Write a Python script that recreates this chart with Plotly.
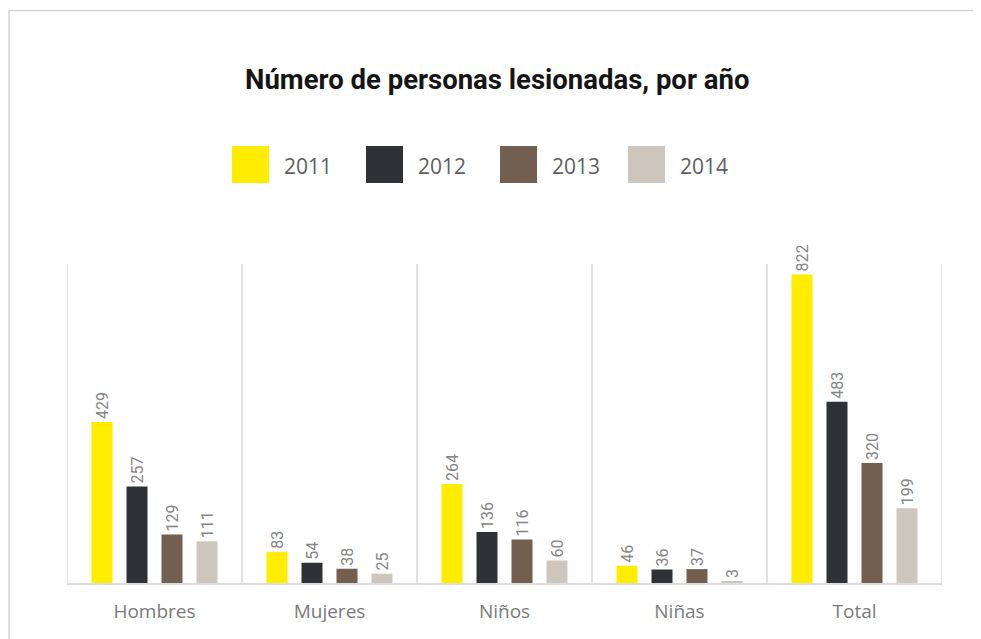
import plotly.graph_objects as go

# ---- data ----
categories = ["Hombres", "Mujeres", "Niños", "Niñas", "Total"]
years = ["2011", "2012", "2013", "2014"]
values_2011 = [429, 83, 264, 46, 822]
values_2012 = [257, 54, 136, 36, 483]
values_2013 = [129, 38, 116, 37, 320]
values_2014 = [111, 25, 60, 3, 199]
series = [values_2011, values_2012, values_2013, values_2014]
colors = ["#FFED00", "#2E3235", "#735F50", "#CEC6BC"]

title_text = "Número de personas lesionadas, por año"

# the page body has an 8px default margin: work in page pixels, convert
OFF = 8
VW, VH = 981, 639
W, H = VW - OFF, VH - OFF
PL, PR, PT, PB = 67, 942, 264, 583          # plot box in page pixels
L, R, T, B = PL - OFF, VW - PR, PT - OFF, VH - PB
PW, PH = W - L - R, H - T - B


def px_x(x):
    return (x - OFF - L) / PW


def px_y(y):
    return (H - B - (y - OFF)) / PH


fig = go.Figure()
for yr, vals, col in zip(years, series, colors):
    fig.add_trace(go.Bar(
        x=categories, y=vals, name=yr,
        marker=dict(color=col, line=dict(width=0)),
        text=[str(v) for v in vals],
        textposition="outside", textangle=-90,
        textfont=dict(family="Roboto, Liberation Sans, Arial", size=16, color="#858585"),
        cliponaxis=False, constraintext="none",
        showlegend=False,
    ))

shapes = []
# vertical separators between categories
for i in range(len(categories) + 1):
    shapes.append(dict(type="line", xref="x", yref="paper",
                       x0=i - 0.5, x1=i - 0.5, y0=0, y1=1,
                       line=dict(color="#E2E2E4", width=2), layer="below"))
# outer frame (left and top edges)
shapes.append(dict(type="line", xref="paper", yref="paper",
                   x0=px_x(9), x1=px_x(9), y0=px_y(10.5), y1=px_y(700),
                   line=dict(color="#D9D4CF", width=1.5)))
shapes.append(dict(type="line", xref="paper", yref="paper",
                   x0=px_x(9), x1=px_x(1000), y0=px_y(10.5), y1=px_y(10.5),
                   line=dict(color="#D9D4CF", width=1.5)))

annotations = []
# custom legend with large swatches
legend_left = [232, 366, 500, 628]
sq = 37
for yr, col, lx in zip(years, colors, legend_left):
    shapes.append(dict(type="rect", xref="paper", yref="paper",
                       x0=px_x(lx), x1=px_x(lx + sq),
                       y0=px_y(146 + sq), y1=px_y(146),
                       fillcolor=col, line=dict(width=0)))
    annotations.append(dict(text=yr, xref="paper", yref="paper",
                            x=px_x(lx + 50), y=px_y(165.5),
                            xanchor="left", yanchor="middle", showarrow=False,
                            font=dict(family="Open Sans, Liberation Sans, Arial", size=21, color="#5E5E5E")))

# title
annotations.append(dict(text=title_text, xref="paper", yref="paper",
                        x=px_x(497), y=px_y(79), xanchor="center", yanchor="middle",
                        showarrow=False,
                        font=dict(family="Roboto, Liberation Sans, Arial", size=27.5,
                                  color="#151515", weight="bold")))

fig.update_layout(
    width=W, height=H,
    margin=dict(l=L, r=R, t=T, b=B),
    paper_bgcolor="white", plot_bgcolor="white",
    barmode="group", bargap=0.2, bargroupgap=0.4,
    xaxis=dict(range=[-0.5, 4.5], showgrid=False, zeroline=False,
               showline=True, linecolor="#DCDCDC", linewidth=2,
               ticks="outside", ticklen=10, tickcolor="rgba(0,0,0,0)",
               tickfont=dict(family="Open Sans, Liberation Sans, Arial", size=19, color="#7A7A7A")),
    yaxis=dict(range=[0, 850], visible=False, showgrid=False, zeroline=False),
    shapes=shapes, annotations=annotations,
)

fig.write_html("out.html")
